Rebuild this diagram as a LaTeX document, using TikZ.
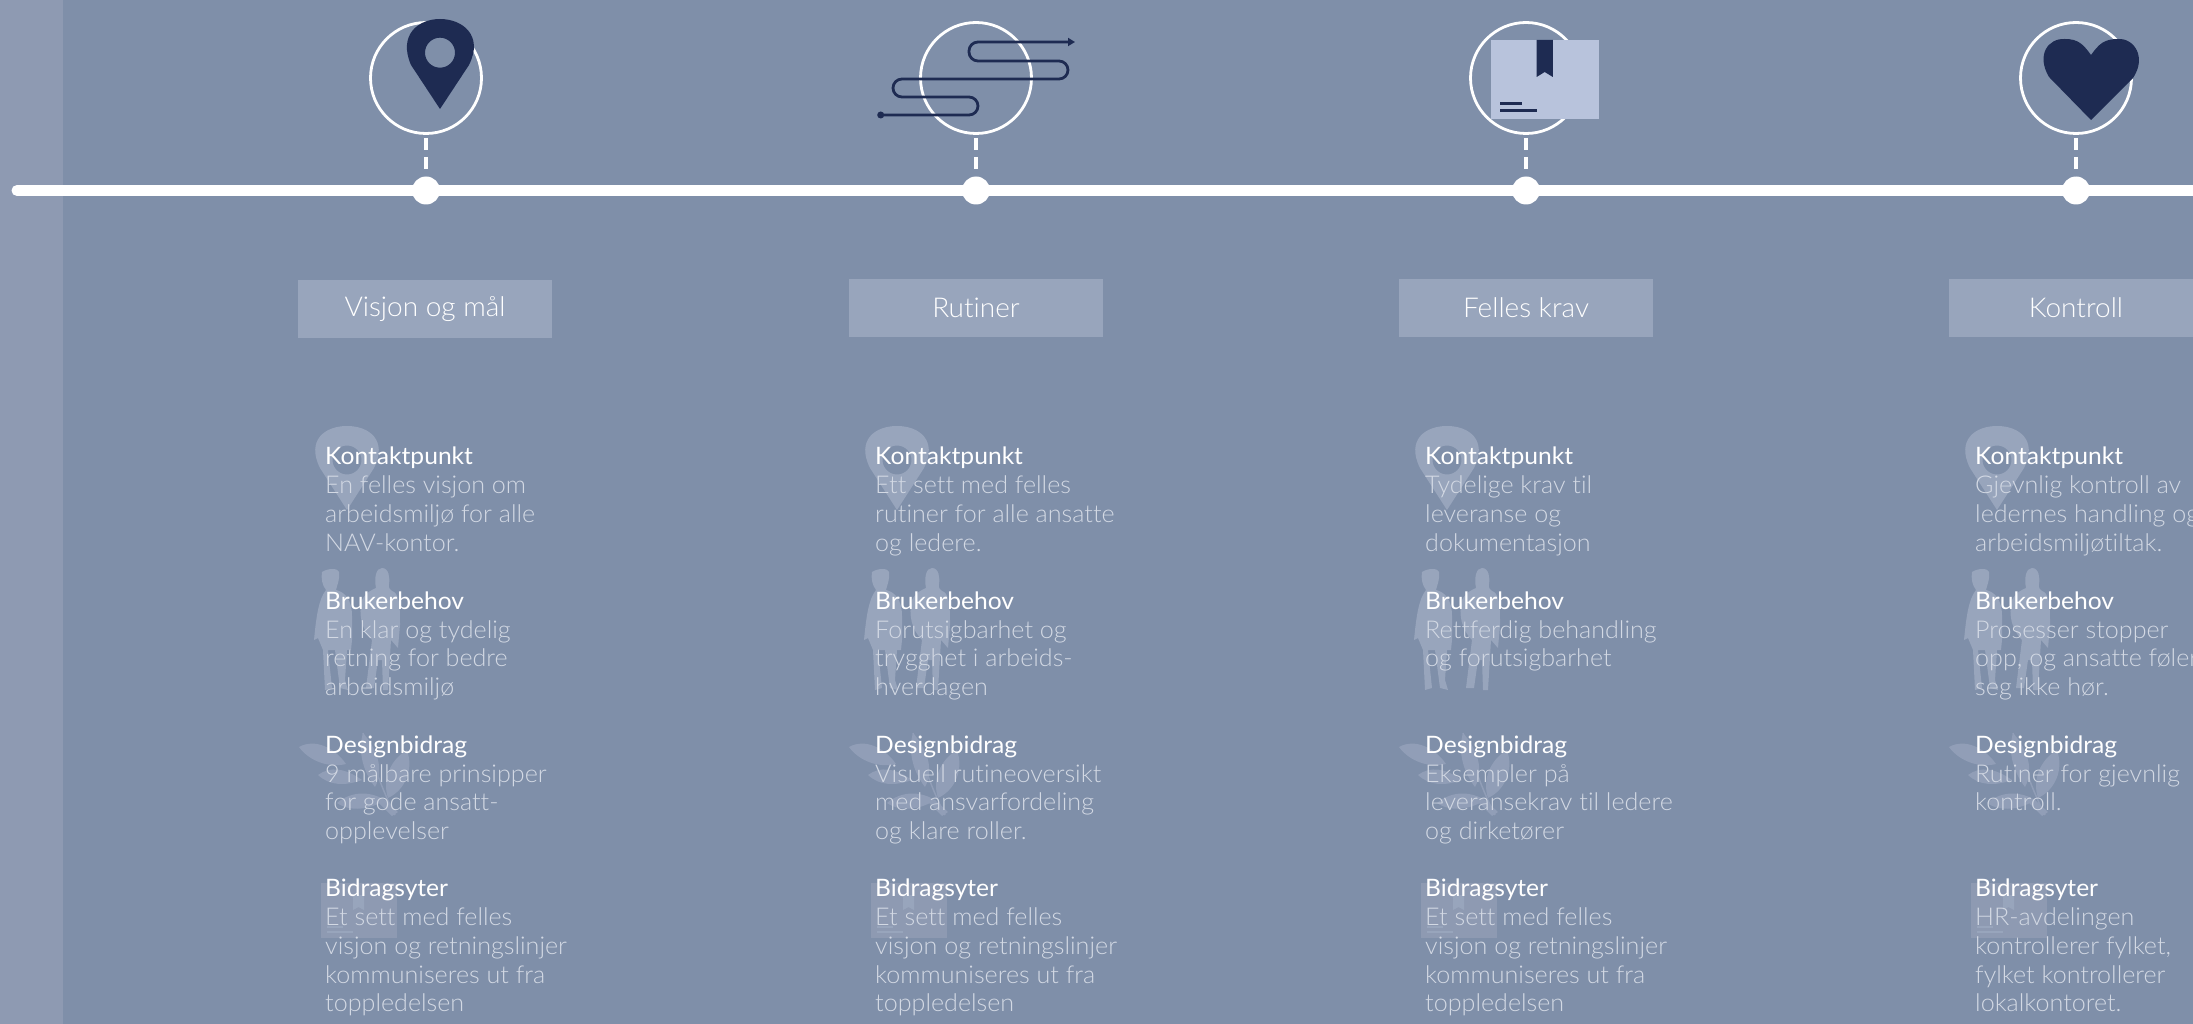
\documentclass[tikz,border=0pt]{standalone}
\usepackage{fontspec}
\usetikzlibrary{arrows.meta}
\setmainfont{Lato}[UprightFont=* Light,BoldFont=*,FakeStretch=1.025,Ligatures=CommonOff]
\newfontfamily\titlefont{Lato}[FakeStretch=1.025,Ligatures=CommonOff]
\definecolor{bgc}{HTML}{7F8FA9}
\definecolor{bandc}{HTML}{8E9AB2}
\definecolor{boxc}{HTML}{98A5BC}
\definecolor{leafc}{HTML}{919EB7}
\definecolor{navy}{HTML}{1E2B52}
\definecolor{pkg}{HTML}{B8C3DC}
\definecolor{bodyc}{HTML}{D3D9E4}
\tikzset{x=1pt,y=-1pt,
 ring/.style={circle,draw=white,line width=2.8pt,minimum size=111pt,inner sep=0pt},
 dotn/.style={circle,fill=white,minimum size=28pt,inner sep=0pt},
 head/.style={fill=boxc,minimum width=254pt,minimum height=58pt,inner sep=0pt,text=white,font=\fontsize{27.3}{30}\selectfont},
 ttl/.style={anchor=base west,inner sep=0pt,yshift=-1pt,text=white,font=\titlefont\fontsize{24}{28}\selectfont},
 bdy/.style={anchor=base west,inner sep=0pt,yshift=-1pt,text=bodyc,font=\fontsize{24.5}{28}\selectfont},
 ghost/.style={fill=boxc},
 leaf/.style={fill=leafc},
}
\newcommand{\colblock}[1]{%
\begin{scope}[shift={(#1,0)}]
 % pin
 \fill[ghost,even odd rule] (347,510) -- (320,468) .. controls (306,440) and (325,426) .. (347,426) .. controls (369,426) and (388,440) .. (374,468) -- cycle (347,460) circle (14.5);
 % people
 \fill[ghost] (322,572) .. controls (328,568) and (338,568) .. (339,572) .. controls (340,580) and (337,585) .. (336,590) .. controls (345,592) and (352,600) .. (352,616) -- (352,640) -- (351,650) -- (347,650) -- (345,680) -- (348,690) -- (340,688) -- (335,650) -- (328,650) -- (332,688) -- (325,690) -- (323,650) -- (318,638) -- (314,640) .. controls (316,620) and (318,600) .. (326,590) .. controls (322,585) and (321,578) .. (322,572) -- cycle;
 \fill[ghost] (382,568) .. controls (389,568) and (390,578) .. (389,584) .. controls (388,588) and (390,590) .. (394,592) .. controls (400,596) and (400,610) .. (400,625) -- (398,648) -- (391,640) -- (388,690) -- (383,690) -- (382,660) -- (378,660) -- (374,688) -- (366,688) -- (372,640) .. controls (362,630) and (358,615) .. (362,600) .. controls (366,592) and (372,590) .. (376,588) .. controls (374,578) and (376,568) .. (382,568) -- cycle;
 % leaves
 \draw[leafc,line width=1.5pt] (363,733) .. controls (372,760) and (382,790) .. (395,815);
 \fill[leaf] (299,747) .. controls (315,738) and (335,748) .. (346,764) .. controls (330,768) and (310,762) .. (299,747) -- cycle;
 \fill[leaf] (318,775) .. controls (330,766) and (345,768) .. (362,780) .. controls (345,786) and (330,786) .. (318,775) -- cycle;
 \fill[leaf] (363,733) .. controls (378,750) and (384,770) .. (375,787) .. controls (362,770) and (358,750) .. (363,733) -- cycle;
 \fill[leaf] (407,750) .. controls (414,770) and (405,790) .. (388,798) .. controls (382,780) and (390,760) .. (407,750) -- cycle;
 \fill[leaf] (337,803) .. controls (350,792) and (368,790) .. (385,800) .. controls (370,810) and (350,812) .. (337,803) -- cycle;
 \fill[leaf] (385,800) -- (398,812) -- (392,816) -- (378,802) -- cycle;
 % box
 \fill[bandc] (321,883) rectangle (397,938);
 \fill[boxc] (353,895) -- (364,895) -- (364,910) -- (358.5,907) -- (353,910) -- cycle;
 \fill[boxc] (327,926) rectangle (343,928);
 \fill[boxc] (327,931) rectangle (353,933);
 \node[ttl] at (325,463) {Kontaktpunkt};
 \node[ttl] at (325,608) {Brukerbehov};
 \node[ttl] at (325,752) {Designbidrag};
 \node[ttl] at (325,895.5) {Bidragsyter};
\end{scope}}
\begin{document}
\begin{tikzpicture}
\useasboundingbox (0,0) rectangle (2193,1024);
\fill[bgc] (0,0) rectangle (2193,1024);
\fill[bandc] (0,0) rectangle (63,1024);
\coordinate (ls) at (17,190.5);
\coordinate (le) at (2193,190.5);
\draw[white,line width=11pt,line cap=round] (ls) -- (le);
\foreach \n/\x in {a/426,b/976,c/1526,d/2076}{
 \node[ring] (r\n) at (\x,78) {};
 \node[dotn] (p\n) at (\x,190.5) {};
 \draw[white,line width=3.2pt,dash pattern=on 12pt off 7pt] (\x,138) -- (\x,169);
}
% top pin
\fill[navy,even odd rule] (440,109) -- (411,65) .. controls (398,35) and (418,19) .. (440,19) .. controls (462,19) and (484,35) .. (469,65) -- cycle (440,52.7) circle (15);
% route
\fill[navy] (880.7,115) circle (3.5);
\draw[navy,line width=2.8pt,rounded corners=9pt,-{Triangle[length=7pt,width=8pt]}] (881,115) -- (978,115) -- (978,97) -- (893,97) -- (893,79) -- (1068,79) -- (1068,61) -- (969,61) -- (969,42) -- (1075,42);
% package
\fill[pkg] (1490.5,40) rectangle (1599,119);
\fill[navy] (1536.6,40) -- (1552.8,40) -- (1552.8,77) -- (1544.7,72) -- (1536.6,77) -- cycle;
\fill[navy] (1500,102.5) rectangle (1522,105.5);
\fill[navy] (1500,109) rectangle (1536.6,112);
% heart
\fill[navy] (2091,120) -- (2049,77) .. controls (2036,55) and (2048,38) .. (2065,39) .. controls (2078,39) and (2083,44) .. (2091,55) .. controls (2099,44) and (2104,39) .. (2118,39) .. controls (2134,38) and (2147,57) .. (2133,78) -- cycle;
\colblock{0}
\colblock{550}
\colblock{1100}
\colblock{1650}
\node[head] (ha) at (425,309) {Visjon og mål};
\node[head] (hb) at (976,308) {Rutiner};
\node[head] (hc) at (1526,308) {Felles krav};
\node[head,anchor=center] (hd) at (2076,308) {Kontroll};
\foreach \x/\a/\b/\c/\d/\e/\f/\g/\h/\i/\j/\k/\l/\m in {
325/En felles visjon om/arbeidsmiljø for alle/NAV-kontor./En klar og tydelig/retning for bedre/arbeidsmiljø/9 målbare prinsipper/for gode ansatt-/opplevelser/Et sett med felles/visjon og retningslinjer/kommuniseres ut fra/toppledelsen,
875/Ett sett med felles/rutiner for alle ansatte/og ledere./Forutsigbarhet og/trygghet i arbeids-/hverdagen/Visuell rutineoversikt/med ansvarfordeling/og klare roller./Et sett med felles/visjon og retningslinjer/kommuniseres ut fra/toppledelsen,
1425/Tydelige krav til/leveranse og/dokumentasjon/Rettferdig behandling/og forutsigbarhet//Eksempler på/leveransekrav til ledere/og dirketører/Et sett med felles/visjon og retningslinjer/kommuniseres ut fra/toppledelsen,
1975/Gjevnlig kontroll av/ledernes handling og/arbeidsmiljøtiltak./Prosesser stopper/{opp, og ansatte føler}/seg ikke hør./Rutiner for gjevnlig/kontroll.//HR-avdelingen/{kontrollerer fylket,}/{fylket kontrollerer}/lokalkontoret.}{
 \node[bdy] at (\x,492.5) {\a};
 \node[bdy] at (\x,521) {\b};
 \node[bdy] at (\x,550) {\c};
 \node[bdy] at (\x,637) {\d};
 \node[bdy] at (\x,665.5) {\e};
 \node[bdy] at (\x,694) {\f};
 \node[bdy] at (\x,781) {\g};
 \node[bdy] at (\x,809) {\h};
 \node[bdy] at (\x,838) {\i};
 \node[bdy] at (\x,924.5) {\j};
 \node[bdy] at (\x,953) {\k};
 \node[bdy] at (\x,982) {\l};
 \node[bdy] at (\x,1010.5) {\m};
}
\end{tikzpicture}
\end{document}
